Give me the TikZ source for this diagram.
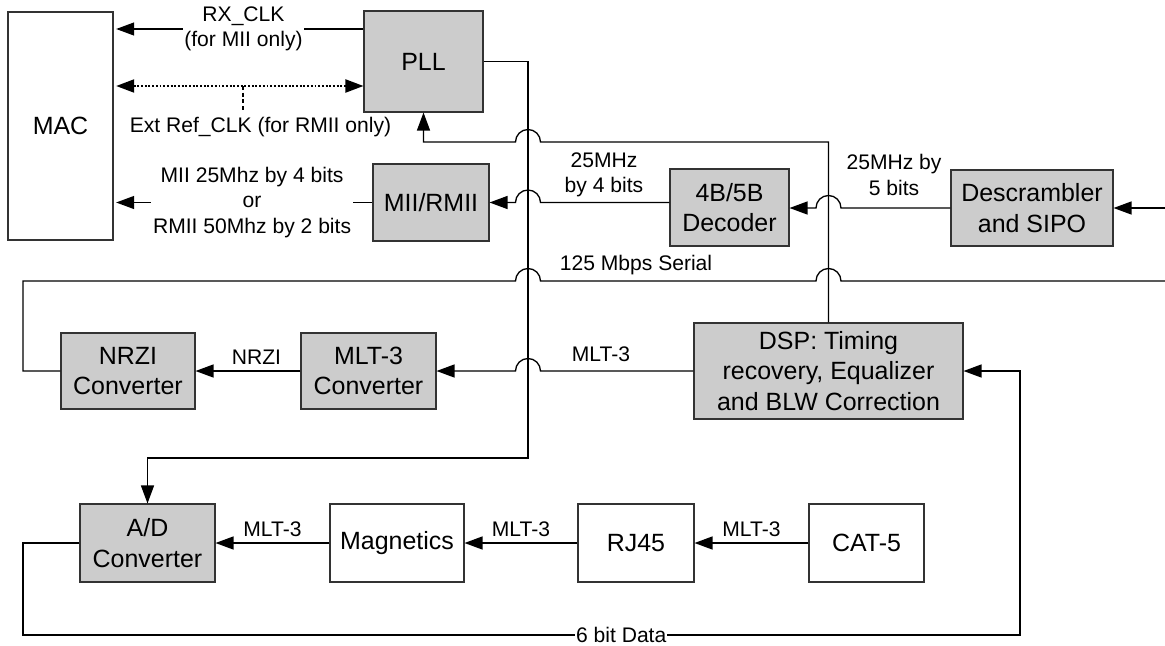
\documentclass[tikz,border=0pt]{standalone}
\usepackage{fontspec}
\setmainfont{Liberation Sans}
\usetikzlibrary{arrows.meta,calc}

\newcommand{\blkfont}{\fontsize{14.2}{17.3}\selectfont}
\newcommand{\lblfont}{\fontsize{12}{14.5}\selectfont}

\tikzset{
  blk/.style={draw=black!80,fill=black!20,line width=0.6pt,align=center,inner sep=0pt,font=\blkfont},
  wblk/.style={blk,fill=white},
  lbl/.style={font=\lblfont,align=center},
  refline/.style={<->,line width=1.1pt,densely dotted},
  refstub/.style={line width=1.6pt,dash pattern=on 2.2pt off 1.6pt},
}

\begin{document}
\begin{tikzpicture}[>={Triangle[length=3.6mm,width=2.6mm]},line width=0.75pt]
  \useasboundingbox (0,0) rectangle (23.3,-12.9);
  % blocks
  \node[wblk,minimum width=2.1cm,minimum height=4.56cm] (mac) at (1.21,-2.52) {MAC};
  \node[blk,minimum width=2.38cm,minimum height=2.02cm] (pll) at (8.47,-1.23) {PLL};
  \node[blk,minimum width=2.32cm,minimum height=1.54cm] (mii) at (8.62,-4.05) {MII/RMII};
  \node[blk,minimum width=2.38cm,minimum height=1.54cm] (dec) at (14.59,-4.15) {4B/5B\\Decoder};
  \node[blk,minimum width=3.24cm,minimum height=1.52cm] (desc) at (20.64,-4.16) {Descrambler\\and SIPO};
  \node[blk,minimum width=2.68cm,minimum height=1.52cm] (nrzi) at (2.56,-7.42) {NRZI\\Converter};
  \node[blk,minimum width=2.7cm,minimum height=1.52cm] (mlt) at (7.37,-7.42) {MLT-3\\Converter};
  \node[blk,minimum width=5.38cm,minimum height=1.92cm] (dsp) at (16.57,-7.42) {DSP: Timing\\recovery, Equalizer\\and BLW Correction};
  \node[blk,minimum width=2.7cm,minimum height=1.56cm] (adc) at (2.95,-10.86) {A/D\\Converter};
  \node[wblk,minimum width=2.68cm,minimum height=1.56cm] (mag) at (7.94,-10.86) {Magnetics};
  \node[wblk,minimum width=2.32cm,minimum height=1.56cm] (rj) at (12.72,-10.86) {RJ45};
  \node[wblk,minimum width=2.3cm,minimum height=1.56cm] (cat) at (17.33,-10.86) {CAT-5};

  % routing points
  \coordinate (rxclk) at ([yshift=0.65cm]pll.west);
  \coordinate (ref) at ([yshift=-0.49cm]pll.west);
  \coordinate (refmid) at (ref -| 4.86,0);
  \coordinate (fb) at (pll.south |- 0,-2.84);
  \coordinate (clkturn) at (10.56,-9.16);
  \coordinate (serturn) at (0.46,-5.62);
  \coordinate (serout) at (23.3,-5.62);
  \coordinate (rxin) at (23.3,-4.16);
  \coordinate (datl) at (0.46,-12.7);
  \coordinate (datr) at (20.4,-12.7);

  % PLL and MAC side
  \draw[->,shorten >=1.5pt] (rxclk) -- node[lbl,pos=0.48,fill=white,inner sep=1pt] {RX\_CLK\\(for MII only)} (rxclk -| mac.east);
  \draw[refline,shorten <=1.5pt] (ref -| mac.east) -- (ref);
  \node[lbl] (reflbl) at (5.21,-2.54) {Ext Ref\_CLK (for RMII only)};
  \draw[refstub] (refmid) -- (refmid |- reflbl.north);
  \draw[->,shorten >=1.5pt] (mii.west) -- node[lbl,pos=0.465,fill=white,inner sep=1pt] {MII 25Mhz by 4 bits\\or\\RMII 50Mhz by 2 bits} (mac.east |- mii.west);
  \draw[->] (pll.east) -| (clkturn) -| (adc.north);
  \draw[->] (dsp.north) |- ($(clkturn |- fb)+(0.25,0)$) arc[start angle=0,end angle=180,radius=0.25] -- (fb) -- (pll.south);

  % receive data path
  \draw[->] (rxin) -- (desc.east);
  \draw[->] (desc.west) -- ($(dsp.north |- desc.west)+(0.25,0)$) arc[start angle=0,end angle=180,radius=0.25] -- (dec.east |- desc.west);
  \node[lbl] (l5b) at (17.88,-3.5) {25MHz by\\5 bits};
  \draw[->] (dec.west |- mii.east) -- ($(clkturn |- mii.east)+(0.25,0)$) arc[start angle=0,end angle=180,radius=0.25] -- (mii.east);
  \node[lbl] (l4b) at (12.08,-3.5) {25MHz\\by 4 bits};

  \draw (nrzi.west) -| (serturn) -- ($(clkturn |- serturn)+(-0.25,0)$) arc[start angle=180,end angle=0,radius=0.25]
    -- ($(dsp.north |- serturn)+(-0.25,0)$) arc[start angle=180,end angle=0,radius=0.25] -- (serout);
  \node[lbl] (lser) at (12.72,-5.3) {125 Mbps Serial};

  \draw[->] (dsp.west) -- ($(clkturn |- dsp.west)+(0.25,0)$) arc[start angle=0,end angle=180,radius=0.25] -- (mlt.east);
  \node[lbl] (lmlt) at (12.02,-7.08) {MLT-3};
  \draw[->] (mlt.west) -- node[lbl,above,pos=0.42] {NRZI} (nrzi.east);

  % line side
  \draw[->] (cat.west) -- node[lbl,above] {MLT-3} (rj.east);
  \draw[->] (rj.west) -- node[lbl,above] {MLT-3} (mag.east);
  \draw[->] (mag.west) -- node[lbl,above] {MLT-3} (adc.east);
  \draw[->] (adc.west) -| (datl) -- node[lbl,pos=0.6,fill=white,inner sep=0.5pt] {6 bit Data} (datr) |- (dsp.east);
\end{tikzpicture}
\end{document}
